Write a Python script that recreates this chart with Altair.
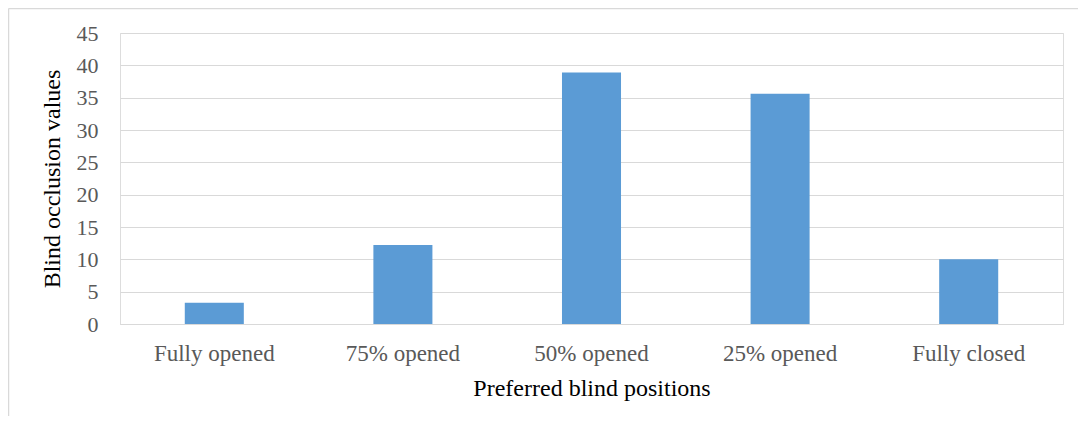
import altair as alt
import pandas as pd

categories = ["Fully opened", "75% opened", "50% opened", "25% opened", "Fully closed"]
values = [3.3, 12.2, 38.9, 35.6, 10.0]
y_ticks = [0, 5, 10, 15, 20, 25, 30, 35, 40, 45]

df = pd.DataFrame({"position": categories, "value": values})

FONT = "Liberation Serif"
GRID = "#d9d9d9"

bars = alt.Chart(df).mark_bar(color="#5b9bd5").encode(
    x=alt.X(
        "position:N",
        sort=categories,
        scale=alt.Scale(paddingInner=0.687, paddingOuter=0.3435),
        axis=alt.Axis(
            title="Preferred blind positions",
            labelAngle=0,
            labelFont=FONT,
            labelFontSize=23,
            labelColor="#595959",
            labelPadding=18,
            ticks=False,
            tickSize=0,
            domainColor=GRID,
            domainWidth=1,
            titleFont=FONT,
            titleFontSize=24,
            titleFontWeight="normal",
            titleColor="#000000",
            titlePadding=11,
        ),
    ),
    y=alt.Y(
        "value:Q",
        scale=alt.Scale(domain=[0, 45], nice=False),
        axis=alt.Axis(
            title="Blind occlusion values",
            values=y_ticks,
            labelFont=FONT,
            labelFontSize=22,
            labelColor="#595959",
            labelPadding=22,
            ticks=False,
            tickSize=0,
            domain=False,
            gridColor=GRID,
            gridWidth=1,
            titleFont=FONT,
            titleFontSize=24,
            titleFontWeight="normal",
            titleColor="#000000",
            titlePadding=12,
        ),
    ),
)

frame = alt.Data(values=[{}])
left_edge = alt.Chart(frame).mark_rule(color=GRID, strokeWidth=1.5).encode(
    x=alt.value(-111.5), y=alt.value(-24.5), y2=alt.value(430),
)
top_edge = alt.Chart(frame).mark_rule(color=GRID, strokeWidth=1.5).encode(
    x=alt.value(-111.5), x2=alt.value(1000), y=alt.value(-24.5),
)

chart = alt.layer(left_edge, top_edge, bars).properties(
    width=943,
    height=291,
    autosize=alt.AutoSizeParams(type="none"),
    padding={"left": 112, "top": 25, "right": 15, "bottom": 92},
).configure_view(stroke=None).configure(background="white")

chart.save("out.html", embed_options={"renderer": "svg", "actions": False})
